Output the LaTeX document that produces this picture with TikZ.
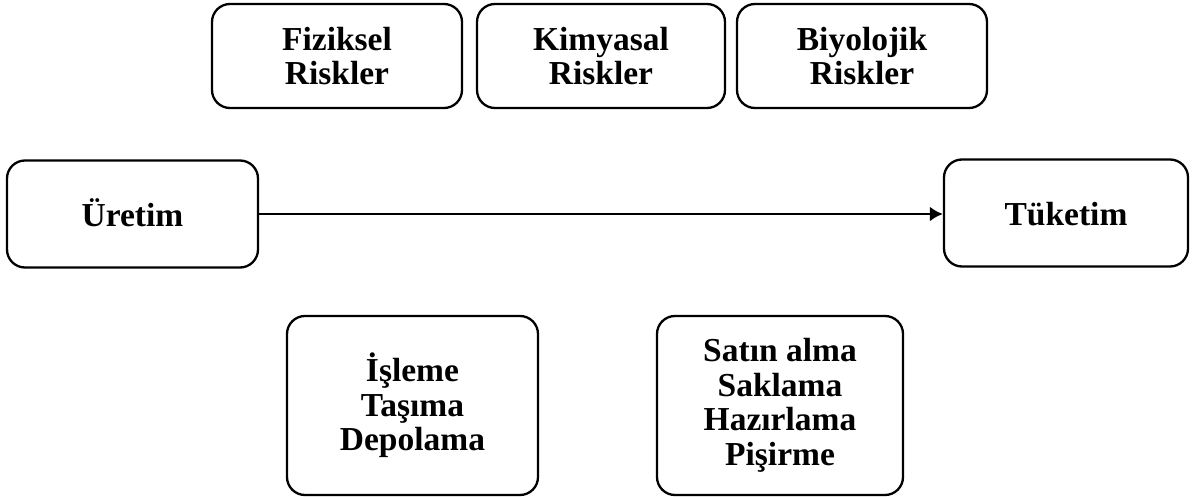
\documentclass[tikz,border=0pt]{standalone}
\usepackage{fontspec}
\setmainfont{Liberation Serif}
\usetikzlibrary{arrows.meta}
\begin{document}
\begin{tikzpicture}[x=1pt,y=-1pt,
  stagebox/.style={draw=black, line width=2.3pt, rounded corners=18pt,
    rectangle, align=center, inner sep=0pt,
    font=\bfseries\fontsize{33.5}{34.5}\selectfont},
  single/.style={text height=24pt, text depth=0pt},
  flow/.style={line width=2.6pt, -{Latex[length=13pt,width=15pt]}}]
  \useasboundingbox (0,0) rectangle (1193,497);
  % risk categories
  \node[stagebox, minimum width=250pt, minimum height=104pt] (fiz) at (337,56) {Fiziksel\\Riskler};
  \node[stagebox, minimum width=248pt, minimum height=104pt] (kim) at (601,56) {Kimyasal\\Riskler};
  \node[stagebox, minimum width=250pt, minimum height=104pt] (biy) at (862,56) {Biyolojik\\Riskler};
  % chain ends
  \node[stagebox, single, minimum width=251pt, minimum height=107pt] (ure) at (132.5,214) {Üretim};
  \node[stagebox, single, minimum width=244pt, minimum height=107pt] (tuk) at (1066,213) {Tüketim};
  % intermediate steps
  \node[stagebox, minimum width=251pt, minimum height=179pt] (isl) at (412.5,405.5) {İşleme\\Taşıma\\Depolama};
  \node[stagebox, minimum width=246pt, minimum height=179pt] (sat) at (780,405.5) {Satın alma\\Saklama\\Hazırlama\\Pişirme};
  % production to consumption
  \draw[flow] (ure.east) -- (ure.east -| tuk.west);
\end{tikzpicture}
\end{document}
